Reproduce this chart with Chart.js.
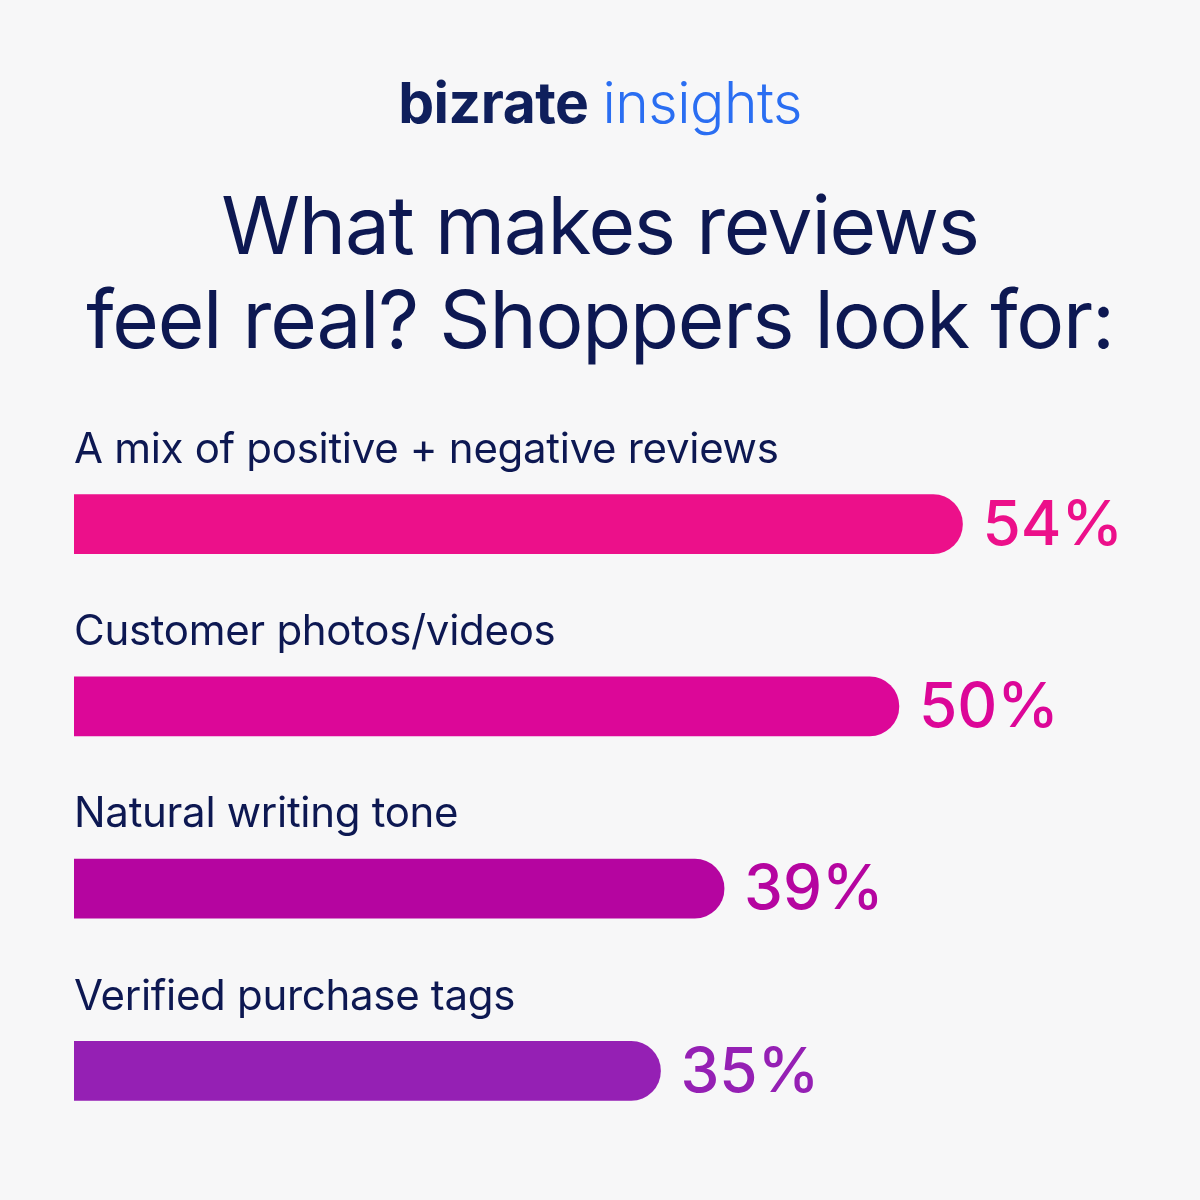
<!DOCTYPE html>
<html>
<head>
<meta charset="utf-8">
<script src="https://cdn.jsdelivr.net/npm/chart.js@4"></script>
<style>
  html, body { margin:0; padding:0; background:#f7f7f8; }
  #wrap { width:1200px; height:1200px; position:relative; }
</style>
</head>
<body>
<div id="wrap"><canvas id="revChart" width="1200" height="1200"></canvas></div>
<script>
// ── Data ─────────────────────────────────────────────────
const categories = [
  "A mix of positive + negative reviews",
  "Customer photos/videos",
  "Natural writing tone",
  "Verified purchase tags"
];
const values     = [54, 50, 39, 35];
const barColors  = ["#EC108A", "#DC0798", "#B505A0", "#9520B4"];
const titleLines = ["What makes reviews", "feel real? Shoppers look for:"];
const brandBold  = "bizrate";
const brandLight = "insights";

const NAVY = "#0d1852";
const FONT = "Inter, 'Noto Sans', sans-serif";

// ── Logo, title + labels plugin ──────────────────────────
const labelPlugin = {
  id: "labels",
  afterDatasetsDraw(chart) {
    const ctx  = chart.ctx;
    const meta = chart.getDatasetMeta(0);
    const left = chart.chartArea.left;
    ctx.save();
    ctx.textBaseline = "middle";

    // brand line
    ctx.letterSpacing = "-0.5px";
    ctx.font = "700 57px " + FONT;
    const wB = ctx.measureText(brandBold).width;
    ctx.font = "300 57px " + FONT;
    const wL = ctx.measureText(brandLight).width;
    const gap = 14;
    const x0 = 600 - (wB + gap + wL) / 2;
    ctx.textAlign = "left";
    ctx.font = "700 57px " + FONT;
    ctx.fillStyle = "#0f1f5c";
    ctx.fillText(brandBold, x0, 106);
    ctx.font = "300 57px " + FONT;
    ctx.fillStyle = "#2a6ef2";
    ctx.fillText(brandLight, x0 + wB + gap, 106);

    // headline
    ctx.textAlign = "center";
    ctx.letterSpacing = "-1.2px";
    ctx.font = "400 80px " + FONT;
    ctx.fillStyle = NAVY;
    titleLines.forEach((t, i) => ctx.fillText(t, 600, 230 + i * 94));

    // category labels + values
    ctx.textAlign = "left";
    meta.data.forEach((bar, i) => {
      ctx.letterSpacing = "-0.3px";
      ctx.font = "400 42px " + FONT;
      ctx.fillStyle = NAVY;
      ctx.fillText(categories[i], left, bar.y - 74);

      ctx.letterSpacing = "0px";
      ctx.font = "500 62px " + FONT;
      ctx.fillStyle = barColors[i];
      ctx.fillText(values[i] + "%", bar.x + 20, bar.y + 2);
    });
    ctx.restore();
  }
};

// ── Chart ────────────────────────────────────────────────
new Chart(document.getElementById("revChart").getContext("2d"), {
  type: "bar",
  data: {
    labels: categories,
    datasets: [{
      data: values,
      backgroundColor: barColors,
      barThickness: 59,
      borderRadius: 30,
      borderSkipped: "start",
      base: -1.9
    }]
  },
  options: {
    indexAxis: "y",
    responsive: false,
    animation: false,
    layout: { padding: { top: 433, bottom: 38, left: 74, right: 15 } },
    scales: {
      x: { display: false, min: -1.9, max: 68 },
      y: { display: false }
    },
    plugins: {
      legend:  { display: false },
      tooltip: { enabled: false },
      title:   { display: false }
    }
  },
  plugins: [labelPlugin]
});
</script>
</body>
</html>
